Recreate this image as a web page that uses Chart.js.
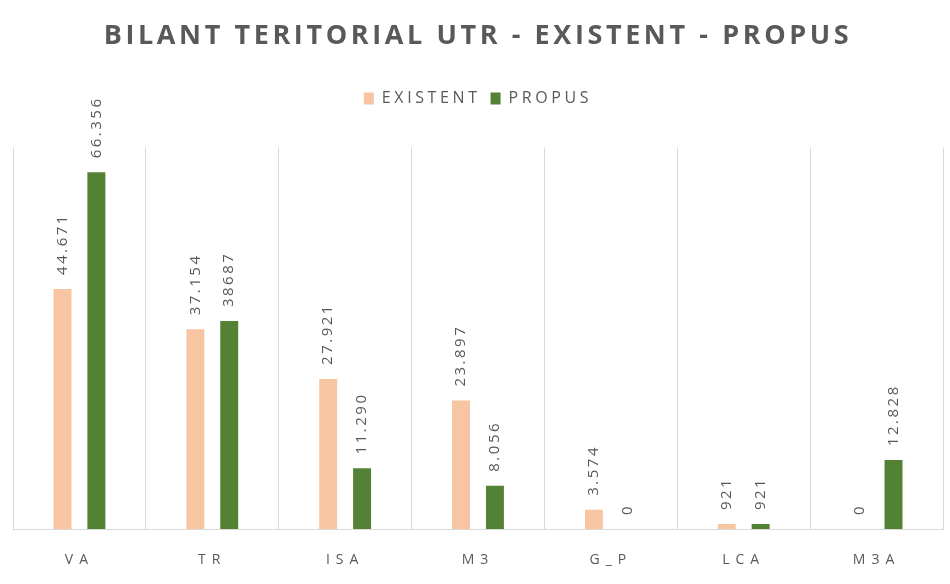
<!DOCTYPE html>
<html lang="ro">
<head>
<meta charset="utf-8">
<title>Bilant teritorial UTR</title>
<script src="https://cdn.jsdelivr.net/npm/chart.js@4"></script>
<style>
  html, body { margin: 0; padding: 0; background: #fff; }
</style>
</head>
<body>
<canvas id="chart" width="950" height="584"></canvas>
<script>
const categories = ['VA', 'TR', 'ISA', 'M3', 'G_P', 'LCA', 'M3A'];
const existent = [44671, 37154, 27921, 23897, 3574, 921, 0];
const propus = [66356, 38687, 11290, 8056, 0, 921, 12828];
// labels as printed on the chart (TR / PROPUS has no thousands dot)
const existentLabels = ['44.671', '37.154', '27.921', '23.897', '3.574', '921', '0'];
const propusLabels = ['66.356', '38687', '11.290', '8.056', '0', '921', '12.828'];

const textGrey = '#595959';

// letter spacing: title + legend before datasets, ticks (z: 1) after
const spacing = {
    id: 'spacing',
    beforeUpdate(chart) { chart.ctx.letterSpacing = '3.6px'; },
    beforeDraw(chart) { chart.ctx.letterSpacing = '3.6px'; }
};

const valueLabels = {
    id: 'valueLabels',
    afterDatasetsDraw(chart) {
        const ctx = chart.ctx;
        ctx.save();
        ctx.font = '15px "Open Sans"';
        ctx.fillStyle = textGrey;
        ctx.letterSpacing = '2.5px';
        ctx.textAlign = 'left';
        ctx.textBaseline = 'middle';
        chart.data.datasets.forEach((ds, i) => {
            chart.getDatasetMeta(i).data.forEach((bar, j) => {
                ctx.save();
                ctx.translate(bar.x, bar.y - 14);
                ctx.rotate(-Math.PI / 2);
                ctx.fillText(ds.valueLabels[j], 0, 0);
                ctx.restore();
            });
        });
        ctx.restore();
        ctx.letterSpacing = '6px';
    }
};

new Chart(document.getElementById('chart'), {
    type: 'bar',
    data: {
        labels: categories,
        datasets: [{
            label: 'EXISTENT',
            data: existent,
            valueLabels: existentLabels,
            backgroundColor: '#F8C5A2',
            categoryPercentage: 0.51,
            barPercentage: 0.53
        }, {
            label: 'PROPUS',
            data: propus,
            valueLabels: propusLabels,
            backgroundColor: '#548235',
            categoryPercentage: 0.51,
            barPercentage: 0.53
        }]
    },
    options: {
        responsive: false,
        animation: false,
        devicePixelRatio: 1,
        layout: { padding: { left: 13, right: 7, top: 0, bottom: -7 } },
        plugins: {
            title: {
                display: true,
                text: 'BILANT TERITORIAL UTR - EXISTENT - PROPUS',
                color: textGrey,
                font: { family: 'Open Sans', size: 27, weight: 'bold' },
                padding: { top: 20, bottom: 28 }
            },
            legend: {
                labels: {
                    boxWidth: 10,
                    boxHeight: 12,
                    color: textGrey,
                    font: { family: 'Open Sans', size: 16 },
                    padding: 10
                }
            },
            tooltip: { enabled: false }
        },
        scales: {
            x: {
                grid: { color: '#D9D9D9', drawTicks: false, offset: true },
                border: { color: '#D9D9D9' },
                ticks: {
                    z: 1,
                    color: textGrey,
                    font: { family: 'Open Sans', size: 14 },
                    padding: 22.6
                }
            },
            // empty band between the legend and the top of the plot
            xTop: {
                type: 'category',
                position: 'top',
                grid: { display: false },
                border: { display: false },
                ticks: { display: false },
                afterFit(scale) { scale.height = 31; }
            },
            y: { display: false, min: 0, max: 71000 }
        }
    },
    plugins: [spacing, valueLabels]
});
</script>
</body>
</html>
